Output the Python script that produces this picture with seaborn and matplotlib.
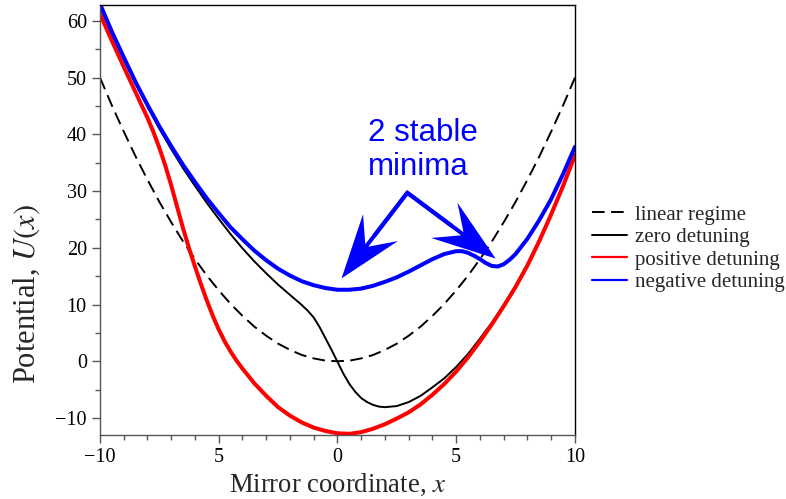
import matplotlib
matplotlib.use('Agg')
import matplotlib.pyplot as plt
import seaborn as sns
from matplotlib.lines import Line2D
from matplotlib.patches import FancyArrow
from matplotlib.transforms import IdentityTransform
from matplotlib.ticker import MultipleLocator

# values
x_lin = [-10, -9.5, -9, -8.5, -8, -7.5, -7, -6.5, -6, -5.5, -5, -4.5, -4, -3.5, -3, -2.5, -2, -1.5, -1, -0.5,
         0, 0.5, 1, 1.5, 2, 2.5, 3, 3.5, 4, 4.5, 5, 5.5, 6, 6.5, 7, 7.5, 8, 8.5, 9, 9.5, 10]
u_lin = [50, 45.1, 40.5, 36.1, 32, 28.1, 24.5, 21.1, 18, 15.1, 12.5, 10.1, 8, 6.1, 4.5, 3.1, 2, 1.1, 0.5, 0.1,
         0, 0.1, 0.5, 1.1, 2, 3.1, 4.5, 6.1, 8, 10.1, 12.5, 15.1, 18, 21.1, 24.5, 28.1, 32, 36.1, 40.5, 45.1, 50]

x_zero = [-10, -9.5, -9, -8.5, -8, -7.5, -7, -6.5, -6, -5.5, -5, -4.5, -4, -3.5, -3, -2.5, -2, -1.5,
          -1.25, -1, -0.75, -0.5, -0.25, 0, 0.25, 0.5, 0.75, 1, 1.25, 1.5, 1.75,
          2, 2.5, 3, 3.5, 4, 4.5, 5, 5.5, 6, 6.5, 7, 7.5, 8, 8.5, 9, 9.5, 10]
u_zero = [62.6, 57.8, 53.3, 48.9, 44.9, 41.0, 37.4, 34.0, 30.9, 27.9, 25.1, 22.4, 19.9, 17.6, 15.5, 13.5, 11.7, 9.9,
          8.9, 7.7, 6.0, 4.0, 2.0, -0.1, -2.2, -4.0, -5.4, -6.5, -7.2, -7.7, -8.0,
          -8.1, -7.9, -7.2, -6.1, -4.6, -3.0, -1.0, 1.3, 4.0, 6.8, 9.9, 13.3, 17.1, 21.4, 26.1, 31.1, 36.5]

x_pos = [-10, -9.5, -9, -8.5, -8, -7.75, -7.5, -7.25, -7, -6.75, -6.5, -6.25, -6, -5.75, -5.5, -5.25, -5,
         -4.75, -4.5, -4.25, -4, -3.5, -3, -2.5, -2, -1.5, -1, -0.5,
         0, 0.5, 1, 1.5, 2, 2.5, 3, 3.5, 4, 4.5, 5, 5.5, 6, 6.5, 7, 7.5, 8, 8.5, 9, 9.5, 10]
u_pos = [61.2, 56.5, 51.9, 47.4, 42.9, 40.4, 37.6, 34.5, 31.0, 27.2, 23.4, 19.9, 16.7, 13.6, 10.7, 8.0, 5.6,
         3.5, 1.7, 0.1, -1.3, -3.9, -6.1, -8.1, -9.6, -10.8, -11.7, -12.3,
         -12.7, -12.8, -12.5, -11.9, -11.1, -10.1, -9.0, -7.6, -5.9, -4.0, -1.8, 0.7, 3.5, 6.5,
         9.7, 13.1, 16.9, 21.2, 25.9, 30.9, 36.3]

x_neg = [-10, -9.5, -9, -8.5, -8, -7.5, -7, -6.5, -6, -5.5, -5, -4.5, -4, -3.5, -3, -2.5, -2, -1.5, -1, -0.5,
         0, 0.5, 1, 1.5, 2, 2.5, 3, 3.5, 4, 4.5,
         5, 5.25, 5.5, 5.75, 6, 6.25, 6.5, 6.75, 7, 7.25, 7.5, 8, 8.5, 9, 9.5, 10]
u_neg = [63.0, 58.1, 53.6, 49.2, 45.2, 41.4, 37.9, 34.6, 31.6, 28.7, 26.1, 23.6, 21.5, 19.5, 17.8, 16.3, 15.1, 14.1,
         13.4, 12.9, 12.6, 12.6, 12.8, 13.3, 14.0, 14.8, 15.8, 16.9, 18.0, 18.9,
         19.4, 19.4, 19.1, 18.6, 18.0, 17.3, 16.8, 16.7, 17.1, 17.9, 18.9, 21.6, 24.9, 28.6, 33.0, 37.8]

labels = ['linear regime', 'zero detuning', 'positive detuning', 'negative detuning']

sns.set_style('ticks')
plt.rcParams['font.family'] = ['Liberation Serif', 'DejaVu Serif']
plt.rcParams['mathtext.fontset'] = 'stix'

fig = plt.figure(figsize=(7.86, 4.99), dpi=100)
ax = fig.add_axes([0.1272, 0.1283, 0.6043, 0.8617])

dash = (0, (6.5, 3.3))
sns.lineplot(x=x_lin, y=u_lin, color='black', linewidth=1.4, linestyle=dash, estimator=None, ax=ax)
sns.lineplot(x=x_zero, y=u_zero, color='black', linewidth=1.4, estimator=None, ax=ax)
sns.lineplot(x=x_pos, y=u_pos, color='#ff0000', linewidth=2.9, estimator=None, ax=ax)
sns.lineplot(x=x_neg, y=u_neg, color='#0000ff', linewidth=2.9, estimator=None, ax=ax)

ax.set_xlim(-10, 10)
ax.set_ylim(-13.0, 62.8)
ax.set_xticks([-10, -5, 0, 5, 10])
ax.set_xticklabels(['\u221210', '5', '0', '5', '10'])
ax.set_yticks([-10, 0, 10, 20, 30, 40, 50, 60])
ax.xaxis.set_minor_locator(MultipleLocator(1))
ax.yaxis.set_minor_locator(MultipleLocator(5))
ax.tick_params(which='major', direction='out', length=6, width=1, labelsize=14.5, colors='#555555', labelcolor='black')
ax.tick_params(which='minor', direction='out', length=3.5, width=1, colors='#555555')
for s in ['left', 'bottom']:
    ax.spines[s].set_color('#555555')
for s in ['top', 'right']:
    ax.spines[s].set_color('black')
for s in ax.spines.values():
    s.set_linewidth(1)

ax.set_xlabel('Mirror coordinate, $x$', fontsize=19.2, labelpad=3)
ax.set_ylabel('Potential, $U(x)$', fontsize=22)
ax.yaxis.set_label_coords(-0.122, 0.328)

ax.text(1.28, 32.8, '2 stable\nminima', color='#0000ff', fontsize=22.5, family='Liberation Sans',
        ha='left', va='baseline', linespacing=1.2)

# arrows from one apex to the two minima
apex = (2.94, 29.7)
tips = [(0.17, 14.6), (6.66, 18.1)]
p0 = ax.transData.transform(apex)
pts = []
for t in tips:
    p1 = ax.transData.transform(t)
    d = p1 - p0
    arr = FancyArrow(p0[0], p0[1], d[0], d[1], width=4, head_width=44, head_length=64, overhang=0.35,
                     length_includes_head=True, color='#0000ff', lw=0, transform=IdentityTransform())
    fig.add_artist(arr)
    pts.append(p0 + d * 0.5)
fig.add_artist(Line2D([pts[0][0], p0[0], pts[1][0]], [pts[0][1], p0[1], pts[1][1]], color='#0000ff',
                      linewidth=4 * 0.72, solid_joinstyle='miter', transform=IdentityTransform()))

handles = [Line2D([], [], color='black', linewidth=1.4, linestyle=dash),
           Line2D([], [], color='black', linewidth=1.4),
           Line2D([], [], color='#ff0000', linewidth=1.6),
           Line2D([], [], color='#0000ff', linewidth=1.6)]
fig.legend(handles, labels, loc='center left', bbox_to_anchor=(0.753, 0.502), frameon=False, fontsize=15,
           handlelength=1.7, handletextpad=0.35, labelspacing=0.14, borderpad=0, borderaxespad=0)

plt.savefig('out.png', dpi=100)
